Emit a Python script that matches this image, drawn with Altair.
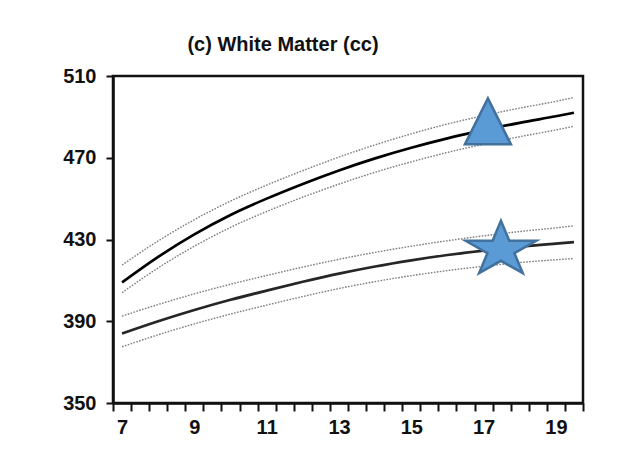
import altair as alt
import pandas as pd

# ---- data ----
ages = [7, 8, 9, 10, 11, 12, 13, 14, 15, 16, 17, 18, 19, 19.5]

upper_mean = [409, 421.5, 432.5, 442, 450, 457.2, 463.8, 469.7, 474.9, 479.5, 483.5, 487.1, 490.3, 492]
upper_hi = [417.5, 429.3, 439.7, 448.8, 456.6, 463.7, 470.3, 476.3, 481.7, 486.5, 490.6, 494.3, 497.6, 499.5]
upper_lo = [404, 416.1, 426.7, 435.9, 443.7, 450.7, 457.1, 462.9, 468, 472.6, 476.6, 480.3, 483.6, 485.4]

lower_mean = [384, 390, 395.5, 400.5, 405, 409.3, 413.3, 416.8, 419.8, 422.4, 424.6, 426.5, 428, 428.7]
lower_hi = [392.5, 398.2, 403.4, 408.1, 412.4, 416.5, 420.3, 423.7, 426.7, 429.4, 431.8, 433.9, 435.7, 436.7]
lower_lo = [377.5, 383.4, 388.7, 393.5, 397.9, 402.1, 406, 409.4, 412.3, 414.8, 416.9, 418.7, 420.1, 420.7]

x_tick_values = [6.75 + 0.5 * i for i in range(27)]
x_label_values = [7, 9, 11, 13, 15, 17, 19]
y_tick_values = [350, 390, 430, 470, 510]

marker_age = [17.12, 17.48]
marker_value = [487.8, 425.0]
marker_kind = ["triangle", "star"]

title_text = "(c) White Matter (cc)"

# ---- long table ----
series = {
    "upper_mean": upper_mean, "upper_hi": upper_hi, "upper_lo": upper_lo,
    "lower_mean": lower_mean, "lower_hi": lower_hi, "lower_lo": lower_lo,
}
rows = []
for name, vals in series.items():
    for a, v in zip(ages, vals):
        rows.append({"series": name, "age": a, "value": v})
df = pd.DataFrame(rows)
markers = pd.DataFrame({"age": marker_age, "value": marker_value, "kind": marker_kind})

FONT = "Liberation Sans"
TRI_PATH = "M0,-1L1,1L-1,1Z"
STAR_PATH = ("M0,-1L0.287,-0.309L1.217,-0.309L0.465,0.118L0.753,0.809L0,0.382"
             "L-0.753,0.809L-0.465,0.118L-1.217,-0.309L-0.287,-0.309Z")

label_expr = ("indexof([" + ",".join(str(v) for v in x_label_values) + "], datum.value - 0.25) >= 0"
              " ? format(datum.value - 0.25, 'd') : ''")

x_enc = alt.X(
    "age:Q",
    scale=alt.Scale(domain=[6.75, 19.75], nice=False, zero=False),
    axis=alt.Axis(values=x_tick_values, labelExpr=label_expr, labelOffset=-9,
                  title=None, grid=False, tickSize=8, tickWidth=2, domainWidth=2.5,
                  labelPadding=6, labelFontSize=20, labelFontWeight="bold",
                  labelFont=FONT, labelColor="#111", labelFlush=False,
                  labelOverlap=False, labelBound=False, tickColor="#111",
                  domainColor="#111"),
)
y_enc = alt.Y(
    "value:Q",
    scale=alt.Scale(domain=[350, 510], nice=False, zero=False),
    axis=alt.Axis(values=y_tick_values, title=None, grid=False, tickSize=7,
                  tickWidth=2, domainWidth=2.5, labelPadding=10, labelFontSize=20,
                  labelFontWeight="bold", labelFont=FONT, labelColor="#111",
                  tickColor="#111", domainColor="#111", labelFlush=False),
)

base = alt.Chart(df)

bands = base.transform_filter(
    alt.FieldOneOfPredicate(field="series", oneOf=["upper_hi", "upper_lo", "lower_hi", "lower_lo"])
).mark_line(interpolate="monotone", strokeDash=[1.6, 1.4], strokeWidth=1.4, color="#7d7d7d").encode(
    x=x_enc, y=y_enc, detail="series:N"
)

means = base.transform_filter(
    alt.FieldOneOfPredicate(field="series", oneOf=["upper_mean", "lower_mean"])
).mark_line(interpolate="monotone", strokeWidth=2.7).encode(
    x=x_enc, y=y_enc,
    color=alt.Color("series:N", scale=alt.Scale(domain=["upper_mean", "lower_mean"],
                                                range=["#000000", "#262626"]), legend=None),
)

mk = alt.Chart(markers)
tri = mk.transform_filter(alt.datum.kind == "triangle").mark_point(
    shape=TRI_PATH, size=2116, filled=True, fill="#5B9BD5", stroke="#41719C",
    strokeWidth=2.5, opacity=1, fillOpacity=1
).encode(x=x_enc, y=y_enc)
star = mk.transform_filter(alt.datum.kind == "star").mark_point(
    shape=STAR_PATH, size=3364, filled=True, fill="#5B9BD5", stroke="#41719C",
    strokeWidth=2.5, opacity=1, fillOpacity=1
).encode(x=x_enc, y=y_enc)

chart = alt.layer(bands, means, tri, star).properties(
    width=470, height=327,
    autosize=alt.AutoSizeParams(type="none"),
    padding={"left": 105, "top": 68, "right": 30, "bottom": 47},
    title=alt.TitleParams(title_text, fontSize=20, fontWeight="bold", font=FONT,
                          color="#111", anchor="middle", frame="group", dx=-65, offset=11),
    background="white",
).configure_view(stroke="#111", strokeWidth=2.5)

chart.save("out.html", embed_options={"renderer": "svg", "actions": False})
